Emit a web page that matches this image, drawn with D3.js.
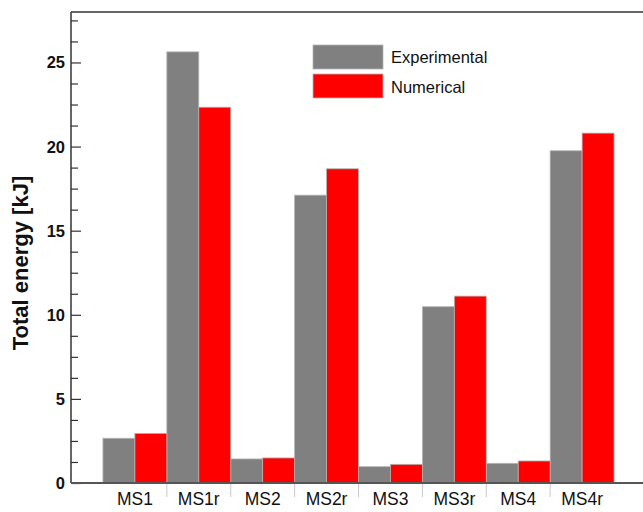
<!DOCTYPE html>
<html><head><meta charset="utf-8">
<script src="https://cdn.jsdelivr.net/npm/d3@7/dist/d3.min.js"></script>
<style>body{margin:0;background:#fff}svg{display:block}</style>
</head><body><svg id="c" width="643" height="512"></svg>
<script>
const categories = ["MS1","MS1r","MS2","MS2r","MS3","MS3r","MS4","MS4r"];
const experimental = [2.66, 25.63, 1.43, 17.11, 0.97, 10.48, 1.17, 19.75];
const numerical = [2.95, 22.34, 1.49, 18.68, 1.11, 11.11, 1.31, 20.8];
const seriesNames = ["Experimental","Numerical"];
const seriesColors = ["#808080","#ff0000"];
const majorTicks = [0,5,10,15,20,25];
const yLabel = "Total energy [kJ]";

(function(){
const svg = d3.select("#c");
const mLeft = 71, mTop = 12, mBottom = 483;
const x = d3.scaleLinear().domain([0, 9]).range([mLeft, 646]);
const y = d3.scaleLinear().domain([0, 28]).range([mBottom, mTop]);
const bw = x(0.5) - x(0);
const font = "'Liberation Sans', Arial, sans-serif";

// bars
const series = [experimental, numerical];
series.forEach((vals, si) => {
  svg.append("g").selectAll("rect").data(vals).join("rect")
    .attr("x", (d,i) => x(i+1) - bw + si*bw)
    .attr("width", bw)
    .attr("y", d => y(d))
    .attr("height", d => y(0) - y(d))
    .attr("fill", seriesColors[si])
    .attr("stroke", "#b4b4b4").attr("stroke-width", 0.8);
});

// y axis (ticks inward)
const minor = d3.range(1, 23).map(k => k*1.25).filter(v => v % 5 !== 0);
const yAxisMajor = d3.axisRight(y).tickValues(majorTicks).tickSize(10).tickFormat("");
const yAxisMinor = d3.axisRight(y).tickValues(minor).tickSize(7).tickFormat("");
svg.append("g").attr("transform", `translate(${mLeft},0)`).call(yAxisMajor)
  .call(g => g.select(".domain").remove())
  .selectAll("line").attr("stroke", "#333").attr("stroke-width", 1.2);
svg.append("g").attr("transform", `translate(${mLeft},0)`).call(yAxisMinor)
  .call(g => g.select(".domain").remove())
  .selectAll("line").attr("stroke", "#333").attr("stroke-width", 1.2);
svg.append("g").selectAll("text").data(majorTicks).join("text")
  .attr("x", 65).attr("y", d => y(d)).attr("dy", "0.36em")
  .attr("text-anchor", "end").attr("font-family", font)
  .attr("font-weight", "bold").attr("font-size", 16.5).attr("fill", "#111")
  .text(d => d);

// frame lines
svg.append("line").attr("x1", mLeft).attr("x2", mLeft).attr("y1", mTop).attr("y2", mBottom)
  .attr("stroke", "#333").attr("stroke-width", 1.5);
svg.append("line").attr("x1", mLeft).attr("x2", 643).attr("y1", mTop).attr("y2", mTop)
  .attr("stroke", "#333").attr("stroke-width", 1.5);

// x axis: separators and labels
const seps = d3.range(1, 8).map(i => i + 0.5);
svg.append("g").selectAll("line").data(seps).join("line")
  .attr("x1", d => x(d)).attr("x2", d => x(d)).attr("y1", mBottom).attr("y2", 497)
  .attr("stroke", "#c8c8c8").attr("stroke-width", 1);
svg.append("line").attr("x1", mLeft).attr("x2", 643).attr("y1", mBottom).attr("y2", mBottom)
  .attr("stroke", "#555").attr("stroke-width", 2);
svg.append("g").selectAll("text").data(categories).join("text")
  .attr("x", (d,i) => x(i+1)).attr("y", 505)
  .attr("text-anchor", "middle").attr("font-family", font)
  .attr("font-size", 17.5).attr("fill", "#111").text(d => d);

// y label
svg.append("text").attr("transform", "translate(28,263) rotate(-90)")
  .attr("text-anchor", "middle").attr("font-family", font)
  .attr("font-weight", "bold").attr("font-size", 22).attr("fill", "#111")
  .text(yLabel);

// legend
const lg = svg.append("g");
seriesNames.forEach((n, i) => {
  lg.append("rect").attr("x", 313).attr("y", 45 + i*29).attr("width", 70).attr("height", 24)
    .attr("fill", seriesColors[i]).attr("stroke", "#b4b4b4").attr("stroke-width", 0.8);
  lg.append("text").attr("x", 391).attr("y", 63 + i*30)
    .attr("font-family", font).attr("font-size", 16.5).attr("fill", "#111").text(n);
});
})();
</script></body></html>
